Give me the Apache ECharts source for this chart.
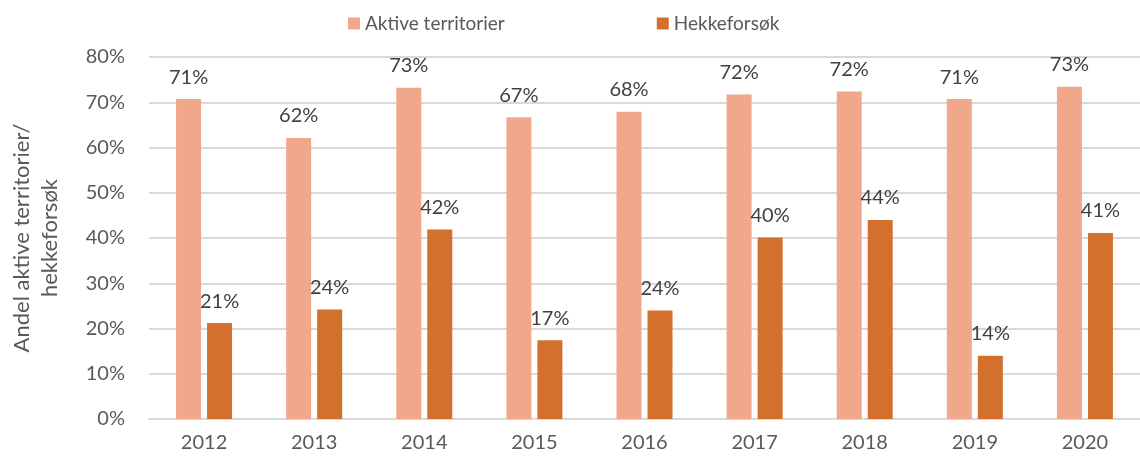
<!DOCTYPE html>
<html><head><meta charset="utf-8">
<script src="https://cdn.jsdelivr.net/npm/echarts@6/dist/echarts.min.js"></script>
<style>html,body{margin:0;padding:0;background:#fff}#c{width:1140px;height:462px}</style>
</head><body><div id="c"></div>
<script>
const years = ['2012','2013','2014','2015','2016','2017','2018','2019','2020'];
const aktive = [70.7, 62.1, 73.2, 66.7, 67.9, 71.7, 72.4, 70.7, 73.4];
const hekke = [21.2, 24.2, 41.9, 17.4, 24.0, 40.1, 44.0, 14.0, 41.1];
const aktiveLabels = ['71%','62%','73%','67%','68%','72%','72%','71%','73%'];
const hekkeLabels = ['21%','24%','42%','17%','24%','40%','44%','14%','41%'];
const seriesNames = ['Aktive territorier','Hekkeforsøk'];
const yTitle = 'Andel aktive territorier/\nhekkeforsøk';

const font = 'Lato, "Open Sans", sans-serif';
const chart = echarts.init(document.getElementById('c'), null, {renderer:'canvas'});
function lab(arr){return {show:true, position:'top', distance:12, color:'#404040', fontSize:20, fontFamily:font, formatter:p=>arr[p.dataIndex]};}
chart.setOption({
  animation:false,
  textStyle:{fontFamily:font},
  legend:{top:9, left:343, itemGap:152, itemWidth:12, itemHeight:12, icon:'rect',
    textStyle:{fontSize:19, color:'#595959', fontFamily:font}, data:seriesNames},
  grid:{left:149, right:0, top:57, bottom:43, containLabel:false, outerBoundsMode:'none'},
  xAxis:{type:'category', data:years,
    axisLine:{lineStyle:{color:'#d9d9d9', width:2}}, axisTick:{show:false},
    axisLabel:{fontSize:20, color:'#595959', margin:14, fontFamily:font}},
  yAxis:{type:'value', min:0, max:80, interval:10,
    name:yTitle, nameLocation:'middle', nameGap:85, nameRotate:90,
    nameTextStyle:{fontSize:22, color:'#595959', lineHeight:28, fontFamily:font},
    axisLine:{show:false}, axisTick:{show:false},
    splitLine:{lineStyle:{color:'#d9d9d9', width:2}},
    axisLabel:{formatter:'{value}%', fontSize:20, color:'#595959', margin:24, fontFamily:font}},
  series:[
    {name:seriesNames[0], type:'bar', data:aktive, barWidth:25, barGap:'24%', itemStyle:{color:'#F1A88A'}, label:lab(aktiveLabels)},
    {name:seriesNames[1], type:'bar', data:hekke, barWidth:25, itemStyle:{color:'#D4702D'}, label:lab(hekkeLabels)}
  ]
});
</script></body></html>
